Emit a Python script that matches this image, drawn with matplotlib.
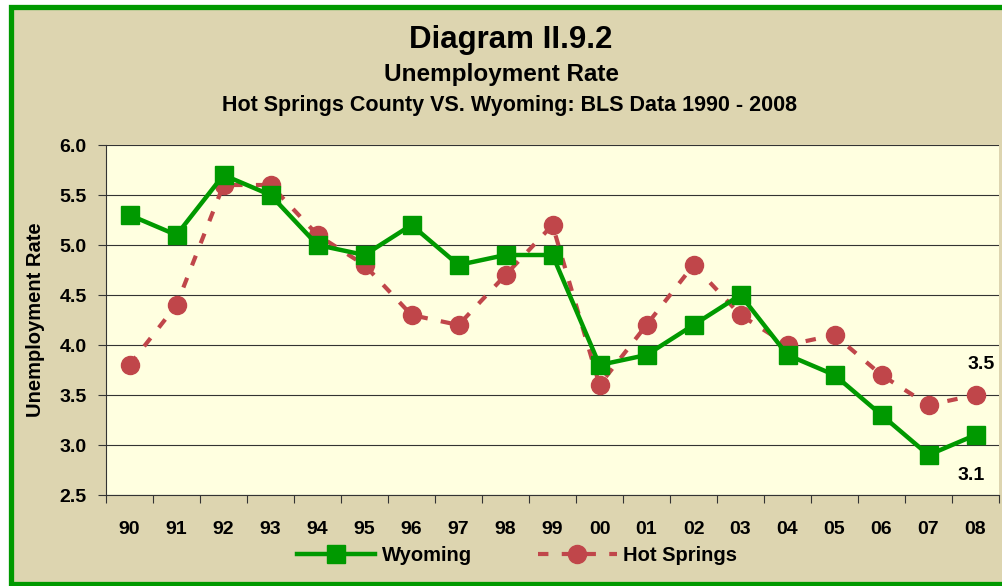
import numpy as np
import matplotlib.pyplot as plt
from matplotlib.patches import Rectangle

years = ["90", "91", "92", "93", "94", "95", "96", "97", "98", "99",
         "00", "01", "02", "03", "04", "05", "06", "07", "08"]
wyoming = [5.3, 5.1, 5.7, 5.5, 5.0, 4.9, 5.2, 4.8, 4.9, 4.9,
           3.8, 3.9, 4.2, 4.5, 3.9, 3.7, 3.3, 2.9, 3.1]
hot_springs = [3.8, 4.4, 5.6, 5.6, 5.1, 4.8, 4.3, 4.2, 4.7, 5.2,
               3.6, 4.2, 4.8, 4.3, 4.0, 4.1, 3.7, 3.4, 3.5]
y_ticks = [2.5, 3.0, 3.5, 4.0, 4.5, 5.0, 5.5, 6.0]

plt.rcParams['font.family'] = ['Liberation Sans', 'DejaVu Sans']
plt.rcParams['font.weight'] = 'bold'

GREEN = '#009900'
RED = '#C0464A'
TAN = '#DDD5B0'
PLOT_BG = '#FFFFE0'

fig = plt.figure(figsize=(10.02, 5.86), dpi=100, facecolor='white')

# outer tan panel with green border (cut off on the right like the source)
W, H = 1002, 586
panel = Rectangle((10.5 / W, 2 / H), 1.2, 577.5 / H,
                  transform=fig.transFigure, facecolor=TAN,
                  edgecolor=GREEN, linewidth=3.8, zorder=-10)
fig.patches.append(panel)

ax = fig.add_axes([106 / W, 1 - 495 / H, (999 - 106) / W, 350 / H])
ax.set_facecolor(PLOT_BG)

x = np.arange(len(years))
ax.plot(x, hot_springs, color=RED, lw=3, ls=(0, (2.5, 3.2)),
        marker='o', ms=13, mec=RED, mfc=RED, label='Hot Springs', zorder=3)
ax.plot(x, wyoming, color=GREEN, lw=3.2, marker='s', ms=12.5,
        mec=GREEN, mfc=GREEN, label='Wyoming', zorder=4)

ax.annotate(f"{hot_springs[-1]:.1f}", (x[-1], hot_springs[-1]),
            xytext=(4, 22), textcoords='offset points', ha='center',
            va='center', fontsize=14, fontweight='bold')
ax.annotate(f"{wyoming[-1]:.1f}", (x[-1], wyoming[-1]),
            xytext=(-3, -29), textcoords='offset points', ha='center',
            va='center', fontsize=14, fontweight='bold')

ax.set_xlim(-0.5, len(years) - 0.5)
ax.set_ylim(2.5, 6.0)
ax.set_yticks(y_ticks)
ax.set_yticklabels([f"{v:.1f}" for v in y_ticks], fontsize=14, fontweight='bold')
ax.set_xticks(x)
ax.set_xticklabels(years, fontsize=14, fontweight='bold')
ax.set_xticks(np.arange(-0.5, len(years)), minor=True)
ax.tick_params(axis='x', which='major', length=0, pad=19)
ax.tick_params(axis='x', which='minor', length=6, width=0.8, color='#333333')
ax.tick_params(axis='y', length=6, width=0.8, color='#333333', pad=8)
ax.grid(axis='y', color='#333333', lw=0.8)
ax.set_axisbelow(True)
for s in ['top', 'right']:
    ax.spines[s].set_visible(False)
for s in ['left', 'bottom']:
    ax.spines[s].set_color('#333333')
    ax.spines[s].set_linewidth(0.8)

ax.set_ylabel("Unemployment Rate", fontsize=14.5, fontweight='bold', labelpad=10)

handles, labels = ax.get_legend_handles_labels()
ax.legend(handles[::-1], labels[::-1], loc='upper center',
          bbox_to_anchor=(0.46, -0.095), ncol=2, frameon=False,
          handlelength=3.9, columnspacing=3.3, handletextpad=0.3,
          prop={'weight': 'bold', 'size': 14.5})

fig.text(511 / W, 1 - 40 / H, "Diagram II.9.2", ha='center', va='center',
         fontsize=22.5, fontweight='bold')
fig.text(501 / W, 1 - 75 / H, "Unemployment Rate", ha='center', va='center',
         fontsize=17.5, fontweight='bold')
fig.text(509 / W, 1 - 106 / H, "Hot Springs County VS. Wyoming: BLS Data 1990 - 2008",
         ha='center', va='center', fontsize=15.5, fontweight='bold')

fig.savefig("out.png", dpi=100, facecolor=fig.get_facecolor())
